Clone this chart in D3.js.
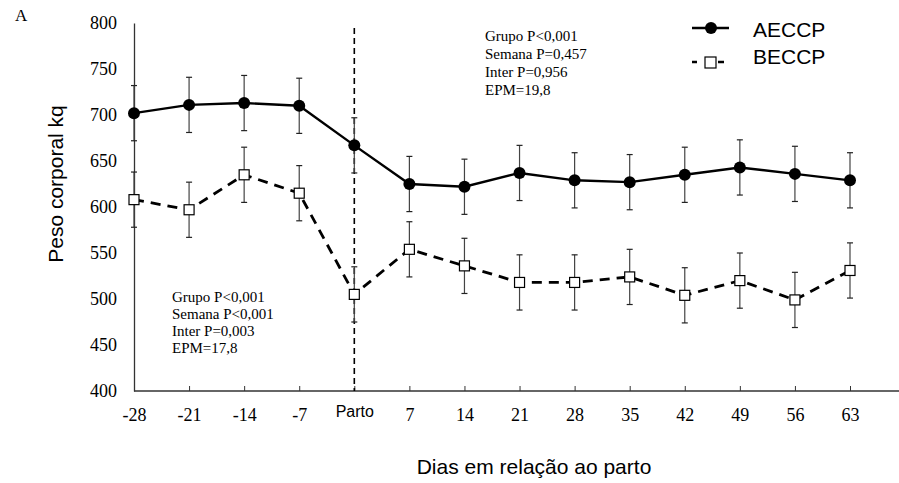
<!DOCTYPE html>
<html>
<head>
<meta charset="utf-8">
<script src="https://cdn.jsdelivr.net/npm/d3@7"></script>
<style>
  body { margin: 0; background: #fff; }
  svg { display: block; }
</style>
</head>
<body>
<div id="chart"></div>
<script>
// --------------------------- Data ---------------------------
const dias = ["-28", "-21", "-14", "-7", "Parto", "7", "14", "21", "28", "35", "42", "49", "56", "63"];
const aeccp = [702, 711, 713, 710, 667, 625, 622, 637, 629, 627, 635, 643, 636, 629];
const beccp = [608, 597, 635, 615, 505, 554, 536, 518, 518, 524, 504, 520, 499, 531];
const erroA = [30, 30, 30, 30, 30, 30, 30, 30, 30, 30, 30, 30, 30, 30];
const erroB = [30, 30, 30, 30, 30, 30, 30, 30, 30, 30, 30, 30, 30, 30];
const yTicks = [400, 450, 500, 550, 600, 650, 700, 750, 800];
const statsA = ["Grupo P<0,001", "Semana P=0,457", "Inter P=0,956", "EPM=19,8"];
const statsB = ["Grupo P<0,001", "Semana P<0,001", "Inter P=0,003", "EPM=17,8"];

const width = 899;
const height = 483;
const serif = "'Liberation Serif', 'Times New Roman', serif";
const sans = "'Liberation Sans', Arial, sans-serif";

const svg = d3.select("#chart")
  .append("svg")
  .attr("width", width)
  .attr("height", height);

// --------------------------- Scales ---------------------------
const x = d3.scalePoint().domain(dias).range([134, 850]);
const y = d3.scaleLinear().domain([400, 800]).range([391, 23]);

// --------------------------- Axes ---------------------------
const xAxis = svg.append("g")
  .attr("transform", `translate(0,${y(400)})`)
  .call(d3.axisBottom(x).tickSizeInner(-5).tickSizeOuter(0));
xAxis.select(".domain").remove();
xAxis.selectAll(".tick line").attr("stroke", "#333");
xAxis.selectAll(".tick text")
  .attr("fill", "#000")
  .style("font-family", d => d === "Parto" ? sans : serif)
  .style("font-size", d => d === "Parto" ? "16px" : "18px")
  .attr("dy", 0)
  .attr("y", d => d === "Parto" ? 26 : 30);

svg.append("line")
  .attr("x1", x("-28")).attr("x2", width)
  .attr("y1", y(400)).attr("y2", y(400))
  .attr("stroke", "#333").attr("stroke-width", 1.3);

const yAxis = svg.append("g")
  .attr("transform", `translate(${x("-28")},0)`)
  .call(d3.axisLeft(y).tickValues(yTicks).tickSize(0).tickPadding(17));
yAxis.select(".domain").attr("stroke", "#333").attr("stroke-width", 1.3);
yAxis.selectAll(".tick text")
  .attr("fill", "#000")
  .style("font-family", serif)
  .style("font-size", "18px");

// axis titles
svg.append("text")
  .attr("transform", "translate(63,184) rotate(-90)")
  .attr("text-anchor", "middle")
  .style("font-family", sans)
  .style("font-size", "21px")
  .text("Peso corporal kq");

svg.append("text")
  .attr("x", 534).attr("y", 474)
  .attr("text-anchor", "middle")
  .style("font-family", sans)
  .style("font-size", "21px")
  .text("Dias em relação ao parto");

svg.append("text")
  .attr("x", 15).attr("y", 21)
  .style("font-family", serif)
  .style("font-size", "17px")
  .text("A");

// --------------------------- Parto marker ---------------------------
svg.append("line")
  .attr("x1", x("Parto")).attr("x2", x("Parto"))
  .attr("y1", 28).attr("y2", y(400))
  .attr("stroke", "#000").attr("stroke-width", 1.6)
  .attr("stroke-dasharray", "6,4");

// --------------------------- Series ---------------------------
const dataA = dias.map((d, i) => ({ dia: d, v: aeccp[i], e: erroA[i] }));
const dataB = dias.map((d, i) => ({ dia: d, v: beccp[i], e: erroB[i] }));

function errorBars(data, cls) {
  const g = svg.append("g").attr("class", cls);
  const bars = g.selectAll("g").data(data).join("g");
  bars.append("line")
    .attr("x1", d => x(d.dia)).attr("x2", d => x(d.dia))
    .attr("y1", d => y(d.v - d.e)).attr("y2", d => y(d.v + d.e))
    .attr("stroke", "#444").attr("stroke-width", 1.2);
  [-1, 1].forEach(s => {
    bars.append("line")
      .attr("x1", d => x(d.dia) - 3).attr("x2", d => x(d.dia) + 3)
      .attr("y1", d => y(d.v + s * d.e)).attr("y2", d => y(d.v + s * d.e))
      .attr("stroke", "#222").attr("stroke-width", 1.2);
  });
}

errorBars(dataB, "err-b");
errorBars(dataA, "err-a");

const line = d3.line().x(d => x(d.dia)).y(d => y(d.v));

svg.append("path")
  .datum(dataB)
  .attr("d", line)
  .attr("fill", "none")
  .attr("stroke", "#000")
  .attr("stroke-width", 2.8)
  .attr("stroke-dasharray", "10,7");

svg.append("path")
  .datum(dataA)
  .attr("d", line)
  .attr("fill", "none")
  .attr("stroke", "#000")
  .attr("stroke-width", 2.4);

svg.append("g")
  .selectAll("circle")
  .data(dataA)
  .join("circle")
  .attr("cx", d => x(d.dia))
  .attr("cy", d => y(d.v))
  .attr("r", 6)
  .attr("fill", "#000");

svg.append("g")
  .selectAll("rect")
  .data(dataB)
  .join("rect")
  .attr("x", d => x(d.dia) - 5)
  .attr("y", d => y(d.v) - 5)
  .attr("width", 10)
  .attr("height", 10)
  .attr("fill", "#fff")
  .attr("stroke", "#000")
  .attr("stroke-width", 1.2);

// --------------------------- Stats text ---------------------------
svg.append("g")
  .selectAll("text")
  .data(statsA)
  .join("text")
  .attr("x", 485)
  .attr("y", (d, i) => 41 + i * 18)
  .style("font-family", serif)
  .style("font-size", "15px")
  .text(d => d);

svg.append("g")
  .selectAll("text")
  .data(statsB)
  .join("text")
  .attr("x", 172)
  .attr("y", (d, i) => 302 + i * 17)
  .style("font-family", serif)
  .style("font-size", "15px")
  .text(d => d);

// --------------------------- Legend ---------------------------
const legend = svg.append("g");
legend.append("line")
  .attr("x1", 692).attr("x2", 729).attr("y1", 28).attr("y2", 28)
  .attr("stroke", "#000").attr("stroke-width", 2.4);
legend.append("circle")
  .attr("cx", 711).attr("cy", 28).attr("r", 6).attr("fill", "#000");
legend.append("text")
  .attr("x", 753).attr("y", 37)
  .style("font-family", sans).style("font-size", "21px")
  .text("AECCP");

legend.append("line")
  .attr("x1", 692).attr("x2", 724).attr("y1", 62).attr("y2", 62)
  .attr("stroke", "#000").attr("stroke-width", 2.4)
  .attr("stroke-dasharray", "5,21,6");
legend.append("rect")
  .attr("x", 705).attr("y", 57).attr("width", 11).attr("height", 11)
  .attr("fill", "#fff").attr("stroke", "#000").attr("stroke-width", 1.2);
legend.append("text")
  .attr("x", 753).attr("y", 64)
  .style("font-family", sans).style("font-size", "21px")
  .text("BECCP");
</script>
</body>
</html>
